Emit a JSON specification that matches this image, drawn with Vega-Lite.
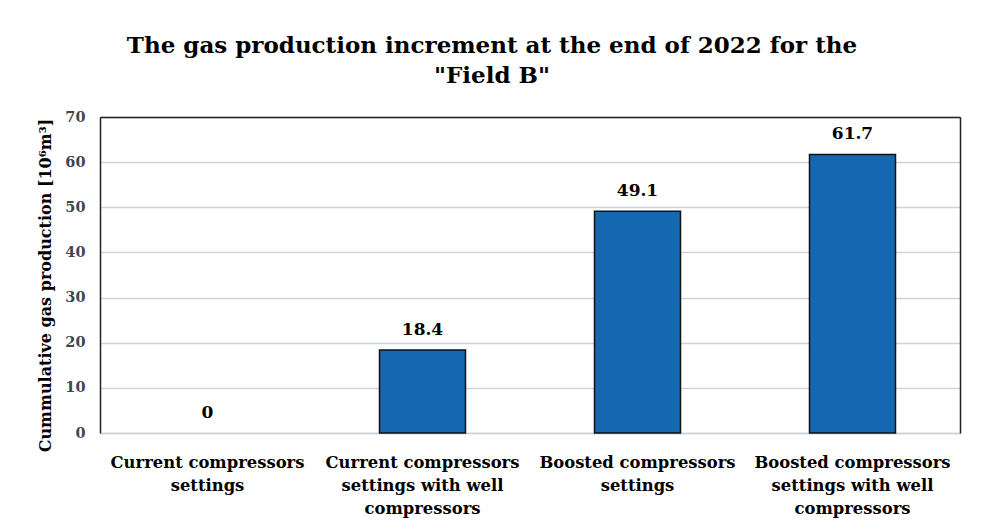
{
  "$schema": "https://vega.github.io/schema/vega-lite/v6.json",
  "autosize": {"type": "none"},
  "width": 860,
  "height": 316,
  "padding": {"left": 100, "top": 117, "right": 21, "bottom": 93},
  "background": "white",
  "title": {
    "text": ["The gas production increment at the end of 2022 for the", "\"Field B\""],
    "font": "DejaVu Serif",
    "fontWeight": "bold",
    "fontSize": 23,
    "lineHeight": 30,
    "color": "#000000",
    "anchor": "middle",
    "frame": "group",
    "dx": -38,
    "offset": 21
  },
  "data": {
    "values": [
      {"scenario": "Current compressors\nsettings", "production": 0},
      {"scenario": "Current compressors\nsettings with well\ncompressors", "production": 18.4},
      {"scenario": "Boosted compressors\nsettings", "production": 49.1},
      {"scenario": "Boosted compressors\nsettings with well\ncompressors", "production": 61.7}
    ]
  },
  "config": {
    "view": {"stroke": null},
    "font": "DejaVu Serif"
  },
  "layer": [
    {
      "mark": {"type": "bar", "color": "#1567b2", "stroke": "#111111", "strokeWidth": 1.5},
      "encoding": {
        "x": {
          "field": "scenario",
          "type": "nominal",
          "sort": null,
          "scale": {"paddingInner": 0.6, "paddingOuter": 0.3},
          "axis": {
            "orient": "bottom",
            "title": null,
            "labelAngle": 0,
            "labelExpr": "split(datum.label, '\\n')",
            "labelFont": "DejaVu Serif",
            "labelFontWeight": "bold",
            "labelFontSize": 16.4,
            "labelColor": "#000000",
            "labelLineHeight": 23,
            "labelBaseline": "top",
            "labelPadding": 21,
            "labelLimit": 0,
            "ticks": false,
            "domainColor": "#c9d4db",
            "domainWidth": 1.5,
            "grid": false
          }
        },
        "y": {
          "field": "production",
          "type": "quantitative",
          "scale": {"domain": [0, 70], "nice": false},
          "axis": {
            "orient": "left",
            "title": "Cummulative gas production [10⁶m³]",
            "titleFont": "DejaVu Serif",
            "titleFontWeight": "bold",
            "titleFontSize": 16,
            "titleColor": "#000000",
            "titleAngle": -90,
            "titleAlign": "center",
            "titleBaseline": "middle",
            "titleX": -55,
            "titleY": 168,
            "values": [0, 10, 20, 30, 40, 50, 60, 70],
            "labelFont": "DejaVu Serif",
            "labelFontWeight": "bold",
            "labelFontSize": 14.5,
            "labelColor": "#3a4852",
            "labelPadding": 15,
            "ticks": false,
            "domainColor": "#222222",
            "domainWidth": 1.5,
            "grid": true,
            "gridColor": "#c9d4db",
            "gridWidth": 1.5
          }
        },
        "strokeOpacity": {
          "condition": {"test": "datum.production == 0", "value": 0},
          "value": 1
        }
      }
    },
    {
      "mark": {"type": "text", "font": "DejaVu Serif", "fontWeight": "bold", "fontSize": 17, "color": "#000000", "baseline": "alphabetic", "dy": -15},
      "encoding": {
        "x": {
          "field": "scenario",
          "type": "nominal",
          "sort": null,
          "axis": {"orient": "top", "title": null, "labels": false, "ticks": false, "grid": false, "domainColor": "#222222", "domainWidth": 1.5}
        },
        "y": {
          "field": "production",
          "type": "quantitative",
          "axis": {"orient": "right", "title": null, "labels": false, "ticks": false, "grid": false, "domainColor": "#222222", "domainWidth": 1.5}
        },
        "text": {"field": "production", "type": "quantitative"}
      }
    }
  ],
  "resolve": {"axis": {"x": "independent", "y": "independent"}}
}
